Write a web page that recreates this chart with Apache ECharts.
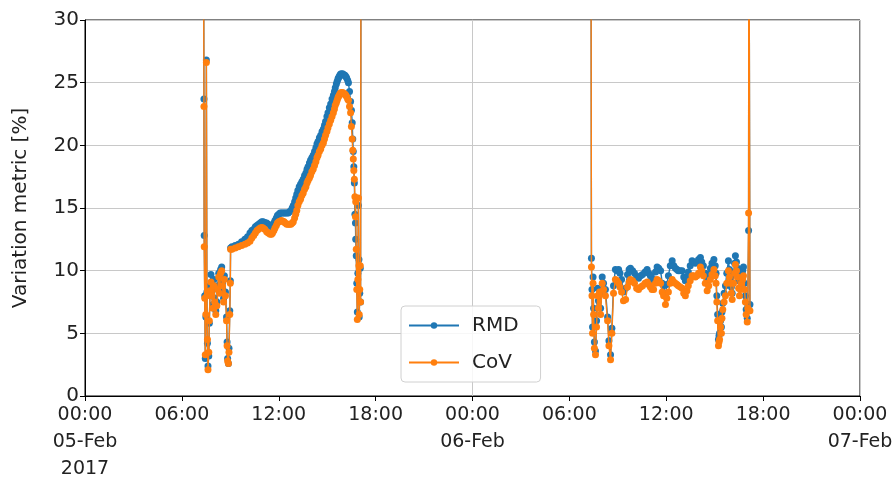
<!DOCTYPE html>
<html>
<head>
<meta charset="utf-8">
<script src="https://cdn.jsdelivr.net/npm/echarts@6/dist/echarts.min.js"></script>
<style>
  html, body { margin: 0; padding: 0; background: #fff; }
  #chart { width: 896px; height: 483px; }
</style>
</head>
<body>
<div id="chart"></div>
<script>
// day 1 = 05-Feb-2017, day 2 = 06-Feb-2017, times are minutes after midnight
const seriesNames = ['RMD', 'CoV'];
const monthName = 'Feb';
const yearLabel = '2017';

const day1Min = [440, 442, 443, 445, 447, 449, 451, 453, 455, 457, 460, 462, 465, 468, 472, 475, 479, 482, 486, 490,
  493, 497, 500, 504, 508, 511, 515, 518, 522, 526, 528, 530, 533, 535, 538, 540, 541,
  546, 558, 570, 582, 594, 604, 613, 620, 627, 633, 639, 645, 651, 657, 662, 668, 675, 681, 688, 693, 697, 702,
  706, 711, 715, 720, 725, 730, 735, 740, 744, 750, 755, 760, 765, 770, 774, 779, 783, 787, 791, 796, 801, 806,
  811, 816, 821, 825, 829, 834, 838, 843, 848, 853, 858, 862, 866, 871, 876, 881, 886, 890, 894, 899, 903, 908,
  913, 918, 923, 927, 930, 934, 937, 940, 942, 945, 947, 950, 953, 956, 959, 962, 966, 969, 972, 976, 979,
  983, 987, 990, 993, 995, 997, 999, 1001, 1003, 1005, 1006, 1008, 1010, 1012, 1014, 1016, 1018, 1019, 1021,
  1023, 1024, 1026];
const day1Rmd = [45, 23.7, 12.8, 8.0, 3.0, 6.3, 26.8, 8.3, 4.2, 2.4, 3.2, 5.8, 8.8, 9.7, 8.4, 7.3, 9.3, 7.8, 6.8, 7.5,
  8.8, 9.8, 8.5, 10.1, 10.3, 9.1, 7.8, 9.6, 8.3, 6.3, 4.3, 3.0, 2.6, 3.8, 6.8, 9.2, 11.8,
  11.9, 12.0, 12.1, 12.3, 12.5, 12.7, 13.0, 13.2, 13.3, 13.5, 13.6, 13.7, 13.8, 13.9, 13.9, 13.85, 13.8, 13.7, 13.6, 13.5, 13.6, 13.8,
  14.0, 14.2, 14.4, 14.5, 14.6, 14.6, 14.6, 14.6, 14.6, 14.6, 14.6, 14.7, 14.8, 15.0, 15.2, 15.5, 15.8, 16.1, 16.4, 16.7, 16.9, 17.1,
  17.3, 17.6, 17.8, 18.1, 18.3, 18.6, 18.8, 19.0, 19.2, 19.5, 19.8, 20.1, 20.3, 20.6, 20.8, 21.1, 21.3, 21.6, 21.9, 22.3, 22.6, 23.0,
  23.3, 23.7, 24.0, 24.3, 24.6, 24.9, 25.1, 25.3, 25.4, 25.5, 25.6, 25.7, 25.7, 25.7, 25.7, 25.6, 25.6, 25.5, 25.4, 25.2, 25.0,
  24.3, 23.5, 22.8, 21.8, 20.5, 19.5, 18.3, 17.0, 14.5, 13.8, 12.5, 11.2, 9.0, 6.7, 9.8, 15.2, 10.9, 6.3, 8.2,
  10.2, 7.5, 45];
const day1Cov = [45, 23.1, 11.9, 7.8, 3.3, 6.5, 26.6, 8.0, 4.5, 2.1, 3.5, 6.0, 8.4, 9.1, 8.0, 7.0, 8.8, 7.5, 6.5, 7.2,
  8.5, 9.5, 8.2, 9.8, 10.0, 8.8, 7.5, 9.3, 8.0, 6.0, 4.0, 2.8, 2.6, 3.5, 6.5, 9.0, 11.7,
  11.7, 11.8, 11.9, 12.0, 12.1, 12.2, 12.35, 12.6, 12.8, 13.0, 13.2, 13.3, 13.4, 13.45, 13.4, 13.3, 13.1, 13.0, 12.9, 12.9, 13.0, 13.2,
  13.4, 13.6, 13.8, 13.9, 13.95, 14.0, 13.95, 13.9, 13.8, 13.7, 13.7, 13.7, 13.7, 13.8, 13.9, 14.2, 14.5, 14.8, 15.2, 15.5, 15.7, 16.0,
  16.2, 16.5, 16.7, 17.0, 17.2, 17.4, 17.6, 17.9, 18.1, 18.4, 18.7, 19.0, 19.2, 19.5, 19.7, 20.0, 20.2, 20.5, 20.8, 21.1, 21.4, 21.7,
  22.0, 22.3, 22.6, 22.9, 23.2, 23.4, 23.6, 23.8, 23.9, 24.0, 24.1, 24.2, 24.2, 24.2, 24.2, 24.1, 24.1, 24.0, 23.9, 23.7, 23.6,
  23.1, 22.6, 21.5, 20.5, 19.6, 18.9, 18.0, 17.3, 15.9, 14.3, 15.5, 11.7, 8.5, 6.1, 9.3, 15.8, 10.4, 6.5, 8.5,
  10.4, 7.5, 45];

const day2Min = [440, 442, 444, 446, 448, 450, 453, 457, 461, 465, 468, 472, 476, 482, 487, 494, 502, 507, 513, 518,
  524, 531, 537, 543, 548, 554, 561, 569, 576, 582, 587, 595, 602, 610, 617, 625, 632, 641, 649, 655, 661, 667,
  673, 680, 686, 692, 699, 705, 710, 717, 722, 728, 735, 742, 748, 754, 760, 765, 772, 779, 785, 791, 797, 802,
  809, 816, 822, 828, 834, 840, 847, 852, 858, 865, 872, 878, 884, 890, 897, 902, 905, 908, 911, 914, 916, 918,
  920, 922, 925, 927, 930, 935, 940, 945, 951, 955, 959, 962, 965, 970, 974, 977, 981, 985, 989, 992, 996, 1000,
  1004, 1007, 1011, 1014, 1017, 1021, 1023, 1026, 1027, 1031];
const day2Rmd = [45, 11.0, 8.5, 5.5, 9.5, 7.0, 4.3, 3.6, 6.0, 8.6, 7.6, 8.1, 7.0, 9.5, 9.0, 8.5, 6.3, 4.4, 3.3, 5.4,
  8.8, 10.1, 10.0, 10.1, 9.8, 9.3, 8.3, 8.6, 9.7, 10.1, 10.2, 10.0, 9.8, 9.5, 9.4, 9.6, 9.7, 9.9, 10.1, 9.8, 9.6, 9.3,
  9.3, 9.9, 10.3, 10.2, 10.0, 9.0, 8.8, 8.0, 8.9, 9.6, 10.4, 10.8, 10.4, 10.2, 10.1, 10.0, 10.0, 10.0, 9.5, 9.2, 9.5, 9.9,
  10.4, 10.8, 10.7, 10.6, 10.7, 10.9, 11.05, 10.7, 10.4, 9.8, 9.3, 9.7, 10.2, 10.6, 10.9, 10.4, 9.8, 8.0, 6.5, 4.5, 4.8, 5.0,
  6.3, 6.0, 5.5, 6.7, 7.4, 8.2, 8.8, 9.8, 10.8, 10.1, 9.5, 8.7, 8.2, 9.8, 10.6, 11.2, 10.7, 10.2, 9.2, 8.6, 9.2, 9.7,
  10.0, 10.3, 9.0, 8.0, 6.9, 6.2, 7.3, 13.2, 45, 7.3];
const day2Cov = [45, 10.3, 8.0, 5.0, 9.0, 6.5, 3.8, 3.3, 5.5, 8.0, 7.0, 8.3, 6.5, 9.0, 8.5, 8.0, 6.0, 4.0, 2.9, 5.0,
  8.2, 9.3, 9.2, 9.0, 8.7, 8.3, 7.6, 7.7, 8.7, 9.1, 9.3, 9.2, 9.0, 8.6, 8.5, 8.7, 8.8, 9.0, 9.1, 8.9, 8.7, 8.5,
  8.5, 9.0, 9.3, 9.2, 9.0, 8.3, 8.0, 7.3, 7.8, 8.3, 9.0, 9.3, 9.1, 9.0, 8.9, 8.8, 8.7, 8.6, 8.2, 8.0, 8.4, 8.8,
  9.2, 9.6, 9.6, 9.5, 9.6, 9.8, 10.3, 10.0, 9.6, 9.0, 8.4, 8.8, 9.3, 9.7, 10.1, 9.6, 9.0, 7.5, 6.0, 4.0, 4.3, 4.5,
  6.0, 5.5, 5.0, 6.2, 6.9, 7.5, 8.0, 9.0, 10.0, 9.5, 9.0, 8.2, 7.7, 9.0, 9.8, 10.5, 10.0, 9.5, 8.6, 8.0, 8.5, 9.0,
  9.3, 9.6, 8.5, 7.5, 6.5, 5.9, 7.0, 14.6, 45, 6.8];

const day1Start = Date.UTC(2017, 1, 5);
const day2Start = Date.UTC(2017, 1, 6);
const xMin = day1Start;
const xMax = Date.UTC(2017, 1, 7);
const HOUR = 3600 * 1000;

function buildSeries(v1, v2) {
  let out = [];
  day1Min.forEach((m, i) => { out.push([day1Start + m * 60000, v1[i]]); });
  // gap overnight, no readings
  out.push([day1Start + 20 * HOUR, null]);
  day2Min.forEach((m, i) => { out.push([day2Start + m * 60000, v2[i]]); });
  return out;
}

function pad(n) {
  return (n < 10 ? '0' : '') + n;
}

let chart = echarts.init(document.getElementById('chart'));
const font = 'DejaVu Sans';

chart.setOption({
  animation: false,
  textStyle: {fontFamily: font},
  grid: {
    left: 85,
    right: 36,
    top: 20,
    bottom: 86,
    show: true,
    borderColor: '#000',
    borderWidth: 1,
  },
  legend: {
    data: seriesNames,
    orient: 'vertical',
    left: 401,
    top: 306,
    padding: [8, 22, 8, 7],
    itemGap: 14,
    itemWidth: 50,
    itemHeight: 8,
    backgroundColor: 'rgba(255,255,255,0.85)',
    borderColor: '#d0d0d0',
    borderWidth: 1,
    borderRadius: 4,
    textStyle: {
      fontFamily: font,
      fontSize: 20,
      color: '#222',
      padding: [0, 0, 0, 8],
      lineHeight: 23,
    },
  },
  xAxis: [{
    // epoch ms, 6 hour steps; min is a UTC midnight so a multiple of the interval
    type: 'value',
    min: xMin,
    max: xMax,
    interval: 6 * HOUR,
    axisLine: {show: true, lineStyle: {color: '#000', width: 1}},
    axisTick: {show: true, length: 5, lineStyle: {color: '#000'}},
    splitLine: {show: false},
    axisLabel: {
      fontFamily: font,
      fontSize: 19,
      color: '#222',
      lineHeight: 27,
      margin: 6,
      showMinLabel: true,
      showMaxLabel: true,
      formatter: function (val) {
        let d = new Date(val);
        let s = pad(d.getUTCHours()) + ':' + pad(d.getUTCMinutes());
        if (d.getUTCHours() !== 0) {
          return s;
        }
        s += '\n' + pad(d.getUTCDate()) + '-' + monthName;
        if (val === xMin) {
          s += '\n' + yearLabel;
        }
        return s;
      },
    },
  }, {
    // only draws the vertical grid line at each midnight
    type: 'value',
    min: xMin,
    max: xMax,
    interval: 24 * HOUR,
    axisLine: {show: false},
    axisTick: {show: false},
    axisLabel: {show: false},
    splitLine: {show: true, lineStyle: {color: '#c8c8c8', width: 1}},
  }],
  yAxis: {
    type: 'value',
    min: 0,
    max: 30,
    interval: 5,
    name: 'Variation metric [%]',
    nameLocation: 'middle',
    nameGap: 54,
    nameTextStyle: {fontFamily: font, fontSize: 20, color: '#222'},
    axisLine: {show: true, lineStyle: {color: '#000', width: 1}},
    axisTick: {show: true, length: 5, lineStyle: {color: '#000'}},
    axisLabel: {fontFamily: font, fontSize: 20, color: '#222', margin: 6},
    splitLine: {show: true, lineStyle: {color: '#c8c8c8', width: 1}},
  },
  series: [{
    name: seriesNames[0],
    type: 'line',
    xAxisIndex: 0,
    data: buildSeries(day1Rmd, day2Rmd),
    symbol: 'circle',
    symbolSize: 7,
    showSymbol: true,
    showAllSymbol: true,
    connectNulls: false,
    itemStyle: {color: '#1f77b4'},
    lineStyle: {color: '#1f77b4', width: 1.4},
    z: 2,
  }, {
    name: seriesNames[1],
    type: 'line',
    xAxisIndex: 0,
    data: buildSeries(day1Cov, day2Cov),
    symbol: 'circle',
    symbolSize: 7,
    showSymbol: true,
    showAllSymbol: true,
    connectNulls: false,
    itemStyle: {color: '#ff7f0e'},
    lineStyle: {color: '#ff7f0e', width: 1.4},
    z: 3,
  }],
});
</script>
</body>
</html>
